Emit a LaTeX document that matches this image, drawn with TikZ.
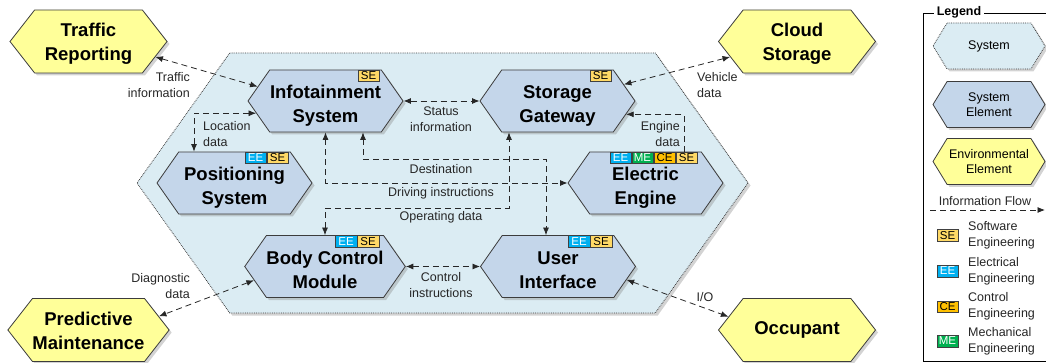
\documentclass[tikz,border=0pt]{standalone}
\usepackage{fontspec}
\setmainfont{Liberation Sans}
\usetikzlibrary{shapes.symbols,shadows,arrows.meta,positioning}
\definecolor{sysblue}{RGB}{219,236,243}
\definecolor{elemblue}{RGB}{196,214,234}
\definecolor{envyellow}{RGB}{255,255,153}
\definecolor{hexborder}{RGB}{60,60,60}
\definecolor{segold}{RGB}{255,217,102}
\definecolor{eeblue}{RGB}{0,176,240}
\definecolor{ceorange}{RGB}{255,192,0}
\definecolor{megreen}{RGB}{0,176,80}

\begin{document}
\begin{tikzpicture}[x=1pt,y=-1pt,>={Latex[length=7.5pt,width=6pt]},
  hexa/.style={signal,signal to=east and west,draw=hexborder,line width=0.8pt,inner sep=0pt,align=center,
    drop shadow={shadow xshift=2.5pt,shadow yshift=-2.5pt,opacity=0.35}},
  sysnode/.style={hexa,fill=sysblue,densely dotted,minimum width=611pt,minimum height=260pt,signal pointer angle=109},
  elemnode/.style={hexa,fill=elemblue,minimum width=155pt,minimum height=62pt,signal pointer angle=110,
    font=\fontsize{18.5}{23.5}\selectfont\bfseries,text height=47pt,text depth=4pt},
  envnode/.style={hexa,fill=envyellow,minimum width=157pt,minimum height=63pt,signal pointer angle=104,
    font=\fontsize{18.5}{23.5}\selectfont\bfseries,text height=42pt,text depth=4pt},
  legnode/.style={minimum width=112pt,minimum height=46pt,signal pointer angle=117,font=\fontsize{12.5}{15.5}\selectfont},
  badge/.style={draw=black!75,line width=0.5pt,minimum width=21.5pt,minimum height=11.5pt,inner sep=0pt,
    font=\fontsize{11.5}{11.5}\selectfont},
  sebox/.style={badge,fill=segold},
  eebox/.style={badge,fill=eeblue,text=white},
  cebox/.style={badge,fill=ceorange},
  mebox/.style={badge,fill=megreen,text=white},
  flow/.style={dash pattern=on 6pt off 4pt,line width=0.8pt,black!85},
  lbl/.style={font=\fontsize{12.5}{16}\selectfont,text=black!85,inner sep=0pt}]

  \useasboundingbox (0,0) rectangle (1046,363);

  % system and its elements
  \node[sysnode] (sys) at (442.5,183) {};
  \node[elemnode] (info) at (325.5,101) {Infotainment\\System};
  \node[elemnode] (store) at (557.5,101) {Storage\\Gateway};
  \node[elemnode] (pos) at (234.5,183) {Positioning\\System};
  \node[elemnode] (engine) at (645.5,183) {Electric\\Engine};
  \node[elemnode] (bcm) at (325,266.5) {Body Control\\Module};
  \node[elemnode] (ui) at (558,266.5) {User\\Interface};

  % environment
  \node[envnode] (traffic) at (88.5,41.5) {Traffic\\Reporting};
  \node[envnode] (cloud) at (797,41.5) {Cloud\\Storage};
  \node[envnode] (maint) at (88.5,330) {Predictive\\Maintenance};
  \node[envnode,text height=13.5pt] (occ) at (797,330) {Occupant};

  % discipline badges
  \node[sebox,anchor=north east] (info-se) at ([xshift=54pt]info.north) {SE};
  \node[sebox,anchor=north east] (store-se) at ([xshift=54pt]store.north) {SE};
  \node[sebox,anchor=north east] (pos-se) at ([xshift=54pt]pos.north) {SE};
  \node[eebox,anchor=north east] (pos-ee) at (pos-se.north west) {EE};
  \node[sebox,anchor=north east] (engine-se) at ([xshift=52pt]engine.north) {SE};
  \node[cebox,anchor=north east] (engine-ce) at (engine-se.north west) {CE};
  \node[mebox,anchor=north east] (engine-me) at (engine-ce.north west) {ME};
  \node[eebox,anchor=north east] (engine-ee) at (engine-me.north west) {EE};
  \node[sebox,anchor=north east] (bcm-se) at ([xshift=54pt]bcm.north) {SE};
  \node[eebox,anchor=north east] (bcm-ee) at (bcm-se.north west) {EE};
  \node[sebox,anchor=north east] (ui-se) at ([xshift=54pt]ui.north) {SE};
  \node[eebox,anchor=north east] (ui-ee) at (ui-se.north west) {EE};

  % information flows
  \draw[flow,<->] (traffic.-13) -- (info.168);
  \draw[flow,<->] (info.east) -- (store.west);
  \draw[flow,<->] (cloud.-167) -- (store.14);
  \draw[flow,->] ([xshift=38.5pt]engine.north) |- (store.-11);
  \draw[flow,<->] (info.-170) -| ([xshift=-40.5pt]pos.north);
  \draw[flow,<->] ([xshift=37.5pt]info.south) -- ++(0,27) -| ([xshift=-12pt]ui.north);
  \draw[flow,<->] (info.south) |- (engine.west);
  \draw[flow,<->] (bcm.north) -- ++(0,-27) -| ([xshift=-48.5pt]store.south);
  \draw[flow,<->] (bcm.east) -- (ui.west);
  \draw[flow,<->] (bcm.-169) -- (maint.11);
  \draw[flow,<->] (ui.-11) -- (occ.169);

  % flow labels
  \node[lbl,align=right,anchor=east] (traffic-lbl) at (190,85) {Traffic\\information};
  \node[lbl,align=center] (status-lbl) at (441,119) {Status\\information};
  \node[lbl,align=left,anchor=west] (vehicle-lbl) at (697,85) {Vehicle\\data};
  \node[lbl,align=right,anchor=east] (engine-lbl) at (680,134) {Engine\\data};
  \node[lbl,align=left,anchor=west] (location-lbl) at (203,134) {Location\\data};
  \node[lbl] (dest-lbl) at (441,169) {Destination};
  \node[lbl] (drive-lbl) at (441,193) {Driving instructions};
  \node[lbl] (oper-lbl) at (441,217) {Operating data};
  \node[lbl,align=center] (control-lbl) at (441,285) {Control\\instructions};
  \node[lbl,align=right,anchor=east] (diag-lbl) at (190,286) {Diagnostic\\data};
  \node[lbl] (io-lbl) at (705,297) {I/O};

  % legend
  \draw[line width=0.6pt] (1046,13) -- (923,13) -- (923,361) -- (1046,361);
  \node[fill=white,font=\fontsize{12.5}{15}\selectfont\bfseries,inner xsep=3pt,inner ysep=1pt] (legend) at (959,12) {Legend};
  \node[hexa,legnode,fill=sysblue,densely dotted] (leg-sys) at (989,46) {System};
  \node[hexa,legnode,fill=elemblue] (leg-elem) at (989,104.5) {System\\Element};
  \node[hexa,legnode,fill=envyellow] (leg-env) at (989,161.5) {Environmental\\Element};
  \node[lbl] (leg-flow) at (985,201) {Information Flow};
  \coordinate (flow-a) at (930,210);
  \coordinate (flow-b) at (1045,210);
  \draw[flow,->] (flow-a) -- (flow-b);
  \node[sebox] (leg-se) at (947.5,235.5) {SE};
  \node[eebox] (leg-ee) at (947.5,271) {EE};
  \node[cebox] (leg-ce) at (947.5,306.5) {CE};
  \node[mebox] (leg-me) at (947.5,341) {ME};
  \node[lbl,align=left,anchor=west] (leg-se-txt) at (968,235.5) {Software\\Engineering};
  \node[lbl,align=left,anchor=west] (leg-ee-txt) at (968,271) {Electrical\\Engineering};
  \node[lbl,align=left,anchor=west] (leg-ce-txt) at (968,306.5) {Control\\Engineering};
  \node[lbl,align=left,anchor=west] (leg-me-txt) at (968,341) {Mechanical\\Engineering};
\end{tikzpicture}
\end{document}
